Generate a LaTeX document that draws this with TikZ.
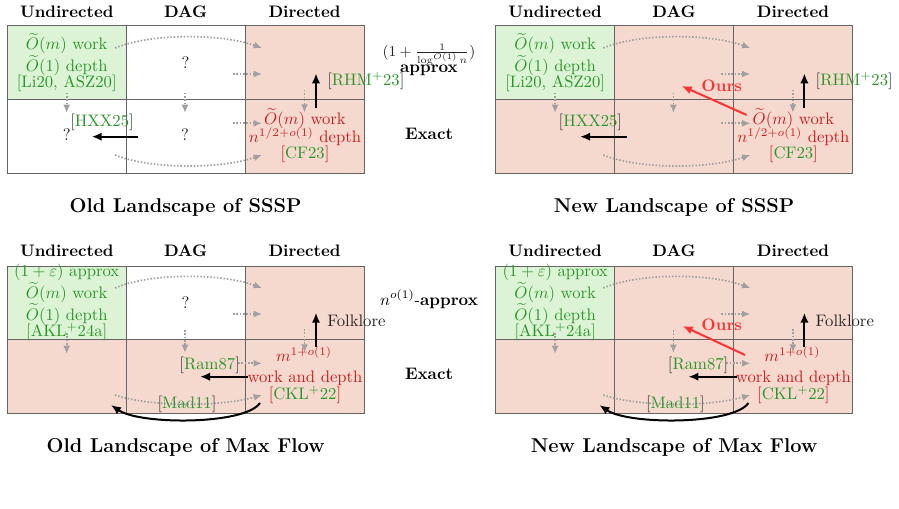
\documentclass[tikz,border=0pt]{standalone}
\usepackage{amsmath}
\usetikzlibrary{arrows.meta}
\definecolor{cgreen}{RGB}{40,150,40}
\definecolor{cred}{RGB}{200,30,30}
\definecolor{cours}{RGB}{255,50,50}
\definecolor{cbrk}{RGB}{60,60,60}
\definecolor{cdark}{RGB}{35,35,35}
\definecolor{cgreenfill}{RGB}{221,243,214}
\definecolor{csalmon}{RGB}{245,217,206}
\definecolor{cdot}{RGB}{160,160,160}
\definecolor{cborder}{RGB}{100,100,100}
\tikzset{
 txt/.style={inner sep=0pt, anchor=base},
 hdr/.style={txt, font=\bfseries},
 gtxt/.style={txt, text=cgreen},
 rtxt/.style={txt, text=cred},
 ktxt/.style={txt, text=cbrk},
 dtxt/.style={txt, text=cdark},
 captxt/.style={txt, font=\large\bfseries},
 ourstxt/.style={txt, font=\bfseries, text=cours},
 dotarrow/.style={draw=cdot, line width=1pt, dash pattern={on 0.9pt off 1.1pt}, -{Latex[length=5pt,width=4.2pt]}},
 blkarrow/.style={draw=black, line width=1.2pt, -{Latex[length=6pt,width=5pt]}},
 oursarrow/.style={draw=cours, line width=1.2pt, -{Latex[length=6pt,width=5pt]}},
 gridline/.style={draw=cborder, line width=0.6pt},
}
\newcommand{\ssspBody}{%
 \draw[gridline] (7.3,26) rectangle (364,173.7);
 \draw[gridline] (126.2,26) -- (126.2,173.7) (245.1,26) -- (245.1,173.7) (7.3,100) -- (364,100);
 \node[hdr] (h1) at (66.75,17.3) {Undirected};
 \node[hdr] (h2) at (185.65,17.3) {DAG};
 \node[hdr] (h3) at (304.55,17.3) {Directed};
 \coordinate (d1s) at (115,48); \coordinate (d1e) at (262,48);
 \draw[dotarrow] (d1s) .. controls (150,33.3) and (220,33.3) .. (d1e);
 \coordinate (d2s) at (233,74); \coordinate (d2e) at (262,74);
 \draw[dotarrow] (d2s) -- (d2e);
 \coordinate (d3s) at (66.7,92.7); \coordinate (d3e) at (66.7,113);
 \draw[dotarrow] (d3s) -- (d3e);
 \coordinate (d4s) at (185,92.7); \coordinate (d4e) at (185,113);
 \draw[dotarrow] (d4s) -- (d4e);
 \coordinate (d5s) at (304.5,90); \coordinate (d5e) at (304.5,112.7);
 \draw[dotarrow] (d5s) -- (d5e);
 \coordinate (d6s) at (233,123.3); \coordinate (d6e) at (262,123.3);
 \draw[dotarrow] (d6s) -- (d6e);
 \coordinate (d7s) at (115,155); \coordinate (d7e) at (262,155);
 \draw[dotarrow] (d7s) .. controls (150,169.3) and (220,169.3) .. (d7e);
 \coordinate (b1s) at (316,108); \coordinate (b1e) at (316,73.3);
 \draw[blkarrow] (b1s) -- (b1e);
 \coordinate (b2s) at (138.3,136.7); \coordinate (b2e) at (91.7,136.7);
 \draw[blkarrow] (b2s) -- (b2e);
 \node[gtxt] (g1) at (66.75,50) {$\widetilde{O}(m)$ work};
 \node[gtxt] (g2) at (66.75,71.7) {$\widetilde{O}(1)$ depth};
 \node[gtxt] (g3) at (66.75,87.3) {[Li20, ASZ20]};
 \node[rtxt] (r1) at (305,125) {$\widetilde{O}(m)$ work};
 \node[rtxt] (r2) at (305,143) {$n^{1/2+o(1)}$ depth};
 \node[rtxt] (r3) at (305,159) {[\textcolor{cgreen}{CF23}]};
 \node[ktxt, anchor=base west] (rhm) at (327,86) {[\textcolor{cgreen}{RHM$^+$23}]};
 \node[ktxt] (hxx) at (102,126.7) {[\textcolor{cgreen}{HXX25}]};
}
\newcommand{\flowBody}{%
 \draw[gridline] (7.3,266) rectangle (364,413.7);
 \draw[gridline] (126.2,266) -- (126.2,413.7) (245.1,266) -- (245.1,413.7) (7.3,339.7) -- (364,339.7);
 \node[hdr] (h1) at (66.75,256.7) {Undirected};
 \node[hdr] (h2) at (185.65,256.7) {DAG};
 \node[hdr] (h3) at (304.55,256.7) {Directed};
 \coordinate (d1s) at (115,288); \coordinate (d1e) at (262,288);
 \draw[dotarrow] (d1s) .. controls (150,272.9) and (220,272.9) .. (d1e);
 \coordinate (d2s) at (233,314); \coordinate (d2e) at (262,314);
 \draw[dotarrow] (d2s) -- (d2e);
 \coordinate (d3s) at (66.7,333); \coordinate (d3e) at (66.7,354);
 \draw[dotarrow] (d3s) -- (d3e);
 \coordinate (d4s) at (185,330); \coordinate (d4e) at (185,353);
 \draw[dotarrow] (d4s) -- (d4e);
 \coordinate (d5s) at (304.5,329); \coordinate (d5e) at (304.5,352.7);
 \draw[dotarrow] (d5s) -- (d5e);
 \coordinate (d6s) at (238,363.3); \coordinate (d6e) at (262,363.3);
 \draw[dotarrow] (d6s) -- (d6e);
 \coordinate (d7s) at (115,395); \coordinate (d7e) at (262,395);
 \draw[dotarrow] (d7s) .. controls (150,407) and (220,407) .. (d7e);
 \coordinate (b1s) at (316,346.7); \coordinate (b1e) at (316,312.7);
 \draw[blkarrow] (b1s) -- (b1e);
 \coordinate (b2s) at (248.3,376.7); \coordinate (b2e) at (200,376.7);
 \draw[blkarrow] (b2s) -- (b2e);
 \coordinate (b3s) at (260,403); \coordinate (b3e) at (111,405);
 \draw[blkarrow] (b3s) .. controls (245,425) and (140,425) .. (b3e);
 \node[gtxt] (g0) at (66.75,276.7) {$(1+\varepsilon)$ approx};
 \node[gtxt] (g1) at (66.75,298.3) {$\widetilde{O}(m)$ work};
 \node[gtxt] (g2) at (66.75,320) {$\widetilde{O}(1)$ depth};
 \node[gtxt] (g3) at (66.75,336.7) {[AKL$^+$24a]};
 \node[dtxt, anchor=base west] (folk) at (327,326) {Folklore};
 \node[ktxt] (ram) at (209.7,369.3) {[\textcolor{cgreen}{Ram87}]};
 \node[rtxt] (r1) at (304,361.7) {$m^{1+o(1)}$};
 \node[rtxt] (r2) at (305,382.7) {work and depth};
 \node[rtxt] (r3) at (305,399.3) {[\textcolor{cgreen}{CKL$^+$22}]};
 \node[ktxt] (mad) at (187,408.3) {[\textcolor{cgreen}{Mad11}]};
}
\begin{document}
\begin{tikzpicture}[x=0.6pt,y=-0.6pt]
\path[use as bounding box, fill=white] (0,0) rectangle (899,509);
% Old SSSP
\begin{scope}[name prefix=so-]
 \fill[cgreenfill] (7.3,26) rectangle (126.2,100);
 \fill[csalmon] (245.1,26) rectangle (364,173.7);
 \ssspBody
 \node[dtxt] (q1) at (185.65,68.3) {?};
 \node[dtxt] (q2) at (66.7,141) {?};
 \node[dtxt] (q3) at (185,141) {?};
 \node[captxt] (cap) at (185.65,213) {Old Landscape of SSSP};
\end{scope}
% New SSSP
\begin{scope}[shift={(488.4,0)}, name prefix=sn-]
 \fill[csalmon] (7.3,26) rectangle (364,173.7);
 \fill[cgreenfill] (7.3,26) rectangle (126.2,100);
 \ssspBody
 \coordinate (os) at (258.3,115); \coordinate (oe) at (193.3,86);
 \draw[oursarrow] (os) -- (oe);
 \node[ourstxt] (ours) at (233.3,91.7) {Ours};
 \node[captxt] (cap) at (185.65,213) {New Landscape of SSSP};
\end{scope}
% Old Max Flow
\begin{scope}[name prefix=fo-]
 \fill[csalmon] (7.3,266) rectangle (364,413.7);
 \fill[white] (126.2,266) rectangle (245.1,339.7);
 \fill[cgreenfill] (7.3,266) rectangle (126.2,339.7);
 \flowBody
 \node[dtxt] (q1) at (185.65,308.3) {?};
 \node[captxt] (cap) at (185.65,452) {Old Landscape of Max Flow};
\end{scope}
% New Max Flow
\begin{scope}[shift={(488.4,0)}, name prefix=fn-]
 \fill[csalmon] (7.3,266) rectangle (364,413.7);
 \fill[cgreenfill] (7.3,266) rectangle (126.2,339.7);
 \flowBody
 \coordinate (os) at (256.6,355); \coordinate (oe) at (194.3,326);
 \draw[oursarrow] (os) -- (oe);
 \node[ourstxt] (ours) at (233.3,330.7) {Ours};
 \node[captxt] (cap) at (185.65,452) {New Landscape of Max Flow};
\end{scope}
% middle labels
\node[dtxt, font=\small] (apx1) at (429,56.5) {$(1+\frac{1}{\log^{O(1)} n})$};
\node[txt, font=\bfseries] (apx2) at (429,72.7) {approx};
\node[txt, font=\bfseries] (ex1) at (429,139.3) {Exact};
\node[txt] (apx3) at (429,305) {$n^{o(1)}$-\textbf{approx}};
\node[txt, font=\bfseries] (ex2) at (429,379.3) {Exact};
\end{tikzpicture}
\end{document}
